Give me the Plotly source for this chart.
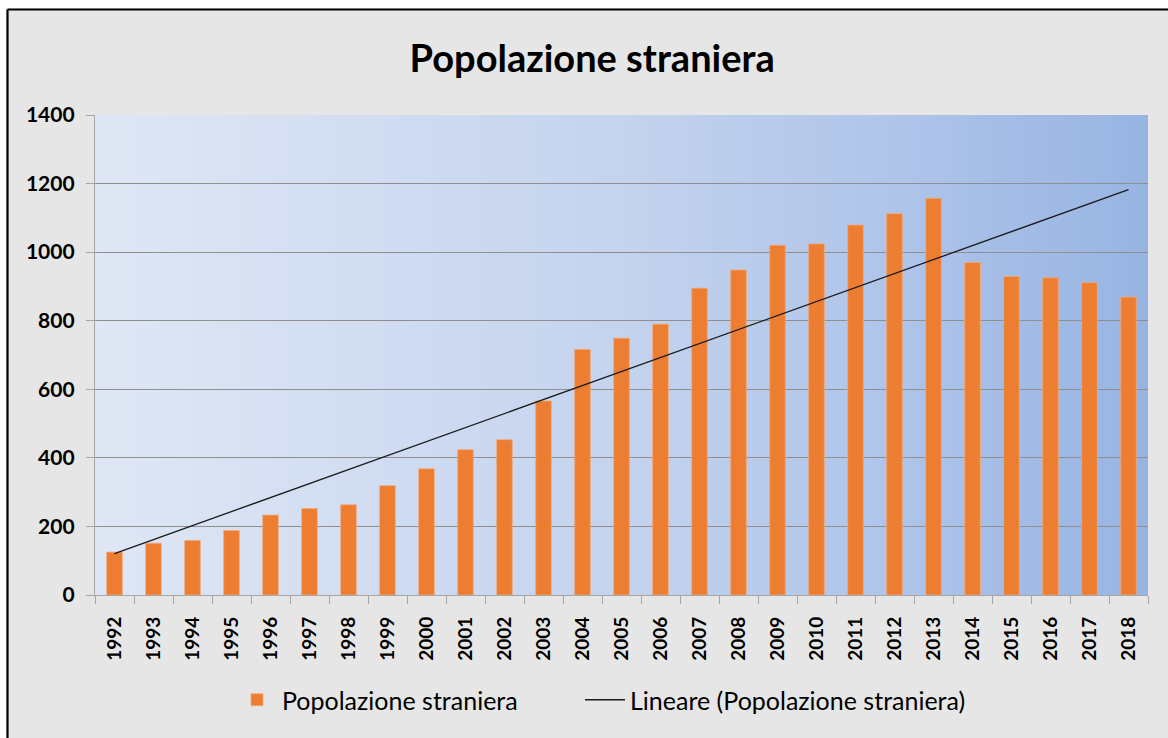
import base64
import numpy as np
import plotly.graph_objects as go

years = [str(y) for y in range(1992, 2019)]
popolazione = [125, 151, 159, 188, 233, 252, 263, 319, 368, 424,
               453, 566, 716, 749, 790, 895, 948, 1020, 1024, 1079,
               1112, 1157, 970, 929, 925, 911, 869]
y_ticks = [0, 200, 400, 600, 800, 1000, 1200, 1400]

# linear trend (Excel "Lineare")
idx = np.arange(len(popolazione))
slope, intercept = np.polyfit(idx, popolazione, 1)
trend = slope * idx + intercept

W, H = 1168, 738
L, R, T, B = 95, 20, 115, 143
PW, PH = W - L - R, H - T - B


def px(xp):
    return (xp - L) / PW


def py(yp):
    return (H - B - yp) / PH


svg = ('<svg xmlns="http://www.w3.org/2000/svg" width="200" height="100" '
       'viewBox="0 0 200 100" preserveAspectRatio="none"><defs>'
       '<linearGradient id="g" x1="0" y1="0" x2="1" y2="0">'
       '<stop offset="0" stop-color="#dfe7f5"/>'
       '<stop offset="0.5" stop-color="#c4d3ee"/>'
       '<stop offset="0.78" stop-color="#adc3e9"/>'
       '<stop offset="1" stop-color="#97b4e2"/>'
       '</linearGradient></defs>'
       '<rect x="0" y="0" width="200" height="100" fill="url(#g)"/></svg>')
svg_uri = "data:image/svg+xml;base64," + base64.b64encode(svg.encode()).decode()

fig = go.Figure()
fig.add_trace(go.Bar(
    x=years, y=popolazione, name="Popolazione straniera", legend="legend",
    marker=dict(color="#ed7d31", line=dict(color="#f3a877", width=0.8)),
))
fig.add_trace(go.Scatter(
    x=years, y=trend, mode="lines", name="Lineare (Popolazione straniera)", legend="legend2",
    line=dict(color="#1a1a1a", width=1.3),
))

shapes = [
    # white margin strips outside the chart border
    dict(type="rect", xref="paper", yref="paper", x0=px(-5), x1=px(W + 5), y0=py(8.5), y1=py(-5),
         fillcolor="white", line=dict(width=0), layer="above"),
    dict(type="rect", xref="paper", yref="paper", x0=px(-5), x1=px(6.5), y0=py(H + 5), y1=py(-5),
         fillcolor="white", line=dict(width=0), layer="above"),
    # black border
    dict(type="line", xref="paper", yref="paper", x0=px(7.5), x1=px(W + 5), y0=py(9.5), y1=py(9.5),
         line=dict(color="black", width=2.2), layer="above"),
    dict(type="line", xref="paper", yref="paper", x0=px(7.5), x1=px(7.5), y0=py(9.5), y1=py(H + 5),
         line=dict(color="black", width=2.2), layer="above"),
]

legend_style = dict(orientation="h", xanchor="left", y=py(700), yanchor="middle",
                    font=dict(family="Lato", size=25, color="black"),
                    bgcolor="rgba(0,0,0,0)", itemwidth=40)

fig.update_layout(
    width=W, height=H,
    margin=dict(l=L, r=R, t=T, b=B),
    paper_bgcolor="#e6e6e6",
    plot_bgcolor="rgba(0,0,0,0)",
    bargap=0.6,
    title=dict(text="<b>Popolazione straniera</b>", x=0.507, xanchor="center",
               y=1 - 59 / H, yanchor="middle",
               font=dict(family="Lato", size=38, color="black")),
    font=dict(family="Lato", color="black"),
    images=[dict(source=svg_uri, xref="paper", yref="paper", x=0, y=1, sizex=1, sizey=1,
                 xanchor="left", yanchor="top", sizing="stretch", layer="below")],
    shapes=shapes,
    legend=dict(x=px(232), **legend_style),
    legend2=dict(x=px(580), **legend_style),
    showlegend=True,
)
fig.update_xaxes(
    type="category", tickangle=-90, ticks="outside", tickson="boundaries", ticklen=8,
    tickcolor="#a6a6a6", showline=True, linecolor="#a6a6a6", linewidth=1.3,
    ticklabelstandoff=13,
    showgrid=False, tickfont=dict(family="Lato", size=19, weight="bold", color="black"),
)
fig.update_yaxes(
    range=[0, 1400], tickvals=y_ticks, ticks="outside", ticklen=8, tickcolor="#a6a6a6",
    showline=True, linecolor="#a6a6a6", linewidth=1.3, ticklabelstandoff=7,
    showgrid=True, gridcolor="#8f8f8f", gridwidth=1.4, zeroline=False,
    tickfont=dict(family="Lato", size=21, weight="bold", color="black"),
)

fig.write_html("out.html", config={"displayModeBar": False},
               post_script="document.body.style.margin='0';document.body.style.overflow='hidden';")
